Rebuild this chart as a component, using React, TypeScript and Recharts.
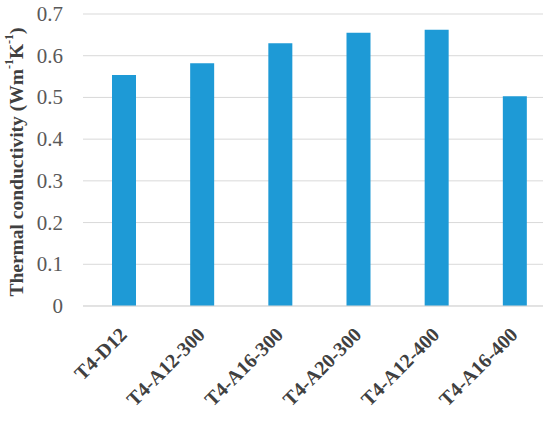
import { BarChart, Bar, XAxis, YAxis, CartesianGrid } from 'recharts';

const samples = ['T4-D12', 'T4-A12-300', 'T4-A16-300', 'T4-A20-300', 'T4-A12-400', 'T4-A16-400'];
const conductivity = [0.554, 0.582, 0.63, 0.655, 0.662, 0.503];
const yTicks = [0, 0.1, 0.2, 0.3, 0.4, 0.5, 0.6, 0.7];

const data = samples.map((name, i) => ({ name, value: conductivity[i] }));

const serif = 'Liberation Serif, Times New Roman, serif';

const XTick = ({ x, y, payload }: any) => (
  <g transform={`translate(${x - 1},${y + 17})`}>
    <text
      x={0}
      y={0}
      dy={7}
      textAnchor="end"
      transform="rotate(-45)"
      fontFamily={serif}
      fontWeight="bold"
      fontSize={20}
      fill="#404040"
    >
      {payload.value}
    </text>
  </g>
);

const YTick = ({ x, y, payload }: any) => (
  <text
    x={x}
    y={y}
    dy={7}
    textAnchor="end"
    fontFamily={serif}
    fontSize={21}
    fill="#595959"
  >
    {payload.value}
  </text>
);

const YLabel = () => (
  <text
    x={16}
    y={162}
    transform="rotate(-90, 16, 162)"
    textAnchor="middle"
    dominantBaseline="central"
    fontFamily={serif}
    fontWeight="bold"
    fontSize={19.5}
    fill="#404040"
  >
    Thermal conductivity (Wm
    <tspan dy={-7} fontSize={12}>-1</tspan>
    <tspan dy={7}>K</tspan>
    <tspan dy={-7} fontSize={12}>-1</tspan>
    <tspan dy={7}>)</tspan>
  </text>
);

export default function App() {
  return (
    <div style={{ position: 'absolute', left: 0, top: 0, background: '#fff' }}>
      <BarChart
        width={550}
        height={421}
        data={data}
        margin={{ top: 14, right: 7, left: 0, bottom: 0 }}
        barSize={24}
      >
        <CartesianGrid vertical={false} stroke="#d9d9d9" />
        <XAxis
          dataKey="name"
          height={115}
          interval={0}
          tick={<XTick />}
          tickLine={false}
          axisLine={{ stroke: '#d9d9d9' }}
          padding={{ left: 2, right: -11 }}
        />
        <YAxis
          width={83}
          domain={[0, 0.7]}
          ticks={yTicks}
          axisLine={false}
          tickLine={false}
          tickSize={0}
          tickMargin={20}
          tick={<YTick />}
          label={<YLabel />}
        />
        <Bar dataKey="value" fill="#1e9ad6" isAnimationActive={false} />
      </BarChart>
    </div>
  );
}
